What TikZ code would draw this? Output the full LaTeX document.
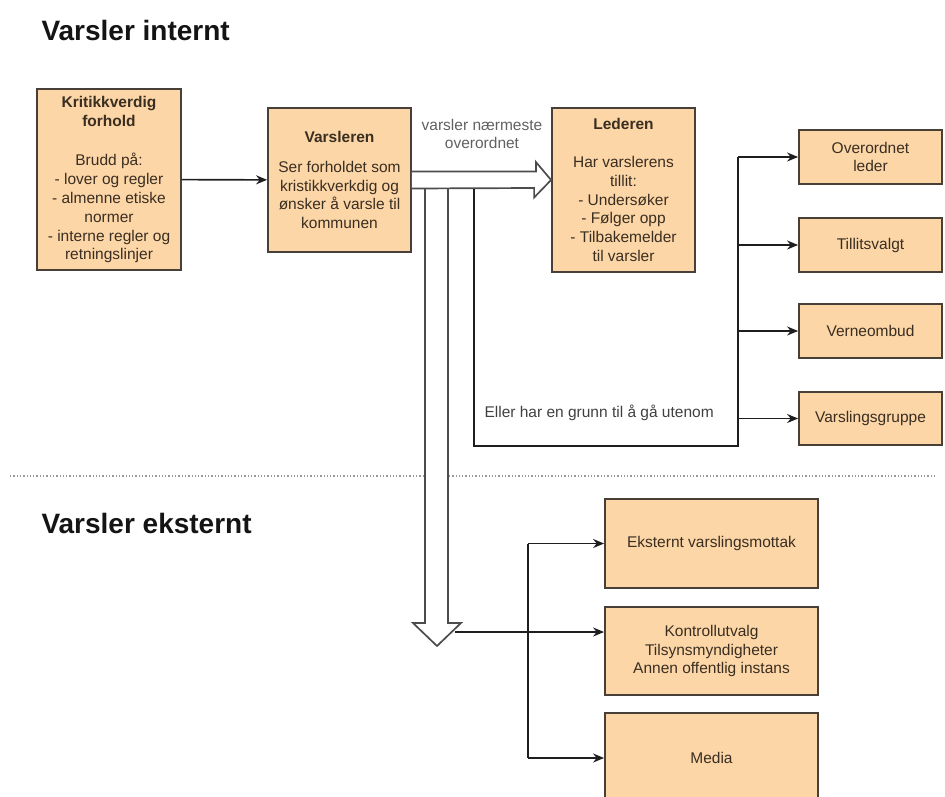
\documentclass[tikz,border=0pt]{standalone}
\usepackage{fontspec}
\setmainfont{Liberation Sans}
\usetikzlibrary{arrows.meta,calc}
\definecolor{boxfill}{RGB}{252,214,166}
\definecolor{boxline}{RGB}{72,64,56}
\definecolor{boxtext}{RGB}{58,46,34}
\definecolor{wire}{RGB}{30,30,30}

\begin{document}
\begin{tikzpicture}[x=1pt,y=-1pt,
  box/.style={draw=boxline,line width=1.8pt,fill=boxfill,text=boxtext,align=center,
              inner sep=2pt,font=\fontsize{15.5}{18.8}\selectfont},
  sidebox/.style={box,minimum width=143pt,minimum height=54pt},
  extbox/.style={box,minimum width=213pt,minimum height=89pt},
  wireline/.style={draw=wire,line width=1.6pt},
  conn/.style={wireline,-{Stealth[length=11pt,width=9pt]}},
  fat/.style={draw=black!70,line width=1.7pt,fill=white,line join=miter},
  title/.style={anchor=west,text=black!92,font=\bfseries\fontsize{28}{32}\selectfont},
  plain/.style={font=\fontsize{15.5}{18.8}\selectfont}]
  \useasboundingbox (0,0) rectangle (945,796);
  \clip (0,0) rectangle (945,796);

  % section headings and divider
  \node[title] (internt) at (38,30) {Varsler internt};
  \node[title] (eksternt) at (38,523) {Varsler eksternt};
  \draw[black!40,dotted,line width=1.3pt] (10,476) -- (935,476);

  % internal chain
  \node[box,minimum width=144pt,minimum height=181pt] (kritikk) at (109,179.5)
    {\textbf{Kritikkverdig}\\\textbf{forhold}\\[21pt]Brudd på:\\- lover og regler\\- almenne etiske\\normer\\- interne regler og\\retningslinjer};
  \node[box,minimum width=143pt,minimum height=144pt] (varsleren) at (339.5,180)
    {\textbf{Varsleren}\\[11pt]Ser forholdet som\\kristikkverkdig og\\ønsker å varsle til\\kommunen};
  \node[box,minimum width=143pt,minimum height=164pt] (lederen) at (623.5,190)
    {\textbf{Lederen}\\[19pt]Har varslerens\\tillit:\\- Undersøker\\- Følger opp\\- Tilbakemelder\\til varsler};
  \draw[conn] (kritikk) -- (varsleren);

  % right column
  \node[sidebox] (overordnet) at (870.5,157) {Overordnet\\leder};
  \node[sidebox] (tillit) at (870.5,245) {Tillitsvalgt};
  \node[sidebox] (verneombud) at (870.5,331) {Verneombud};
  \node[sidebox,minimum height=53pt] (gruppe) at (870.5,418.5) {Varslingsgruppe};

  % external receivers
  \node[extbox] (mottak) at (711.5,543.5) {Eksternt varslingsmottak};
  \node[extbox,minimum height=88pt] (kontroll) at (711.5,651)
    {Kontrollutvalg\\Tilsynsmyndigheter\\Annen offentlig instans};
  \node[extbox,minimum height=90pt] (media) at (711.5,758) {Media};

  % hollow arrows
  \coordinate (downtip) at (437,646);
  \draw[fat] (425,188.5) -- (425,623) -- ++(-12,0) -- (downtip) -- (461,623) -- ++(-13,0) -- (448,188.5);
  \draw[fat] ([yshift=8.5pt]varsleren.east) -- ++(124,0) -- ++(0,-9.5)
    -- (lederen.west |- varsleren.east) -- ++(-17,17.5) -- ++(0,-9.5) -- ([yshift=-8.5pt]varsleren.east);
  \node[plain,text=black!62,align=center] (naermeste) at (482,134) {varsler nærmeste\\overordnet};

  % way around the leader
  \coordinate (split) at (474,188.5);
  \coordinate (trunk) at (738,157);
  \draw[wireline] (split) |- (trunk |- 0,446) -- (trunk);
  \node[plain,anchor=west,text=black!75] (utenom) at (481,413) {Eller har en grunn til å gå utenom};
  \foreach \n in {overordnet,tillit,verneombud,gruppe}
    \draw[conn] (trunk |- \n.west) -- (\n.west);

  % to external receivers
  \coordinate (ext) at (528,544);
  \coordinate (headright) at (455,632);
  \draw[wireline] (ext |- mottak.west) -- (ext |- media.west);
  \draw[conn] (ext |- mottak.west) -- (mottak.west);
  \draw[conn] (ext |- media.west) -- (media.west);
  \draw[conn] (headright) -- (kontroll.west |- headright);
\end{tikzpicture}
\end{document}
